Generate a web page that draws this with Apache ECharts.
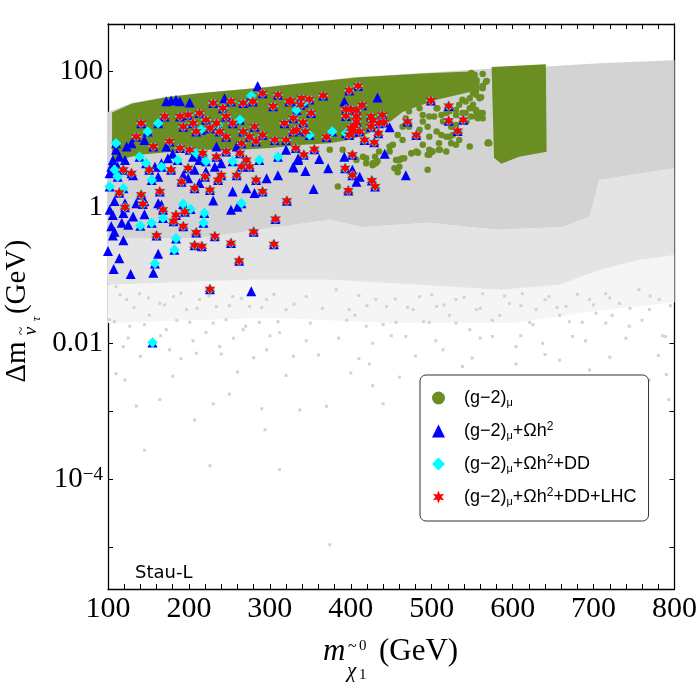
<!DOCTYPE html>
<html>
<head>
<meta charset="utf-8">
<script src="https://cdn.jsdelivr.net/npm/echarts@6/dist/echarts.min.js"></script>
<style>
  html, body { margin: 0; padding: 0; background: #fff; }
  #main { width: 700px; height: 700px; }
</style>
</head>
<body>
<div id="main"></div>
<script>
// x = m_chi1 (GeV), y = delta m (GeV)

// scanned region (gray): dense core and its speckled fringe
const grayTop = [[100,25.5],[130,34.7],[172,42.5],[213,48.6],[254,53.8],[296,59.6],[337,68.2],[407,83.6],[488,95.7],[571,110],[641,119],[707,133],[800,147]];
const graySolidBottom = [[100,0.358],[213,0.358],[374,0.66],[414,0.52],[497,0.6],[580,0.47],[661,0.52],[695,0.73],[707,2.55],[744,3.0],[800,3.8]];
const grayFringeBottom = [[100,0.073],[275,0.0865],[374,0.0865],[485,0.073],[584,0.062],[658,0.073],[707,0.121],[756,0.17],[800,0.2]];
const grayHazeBottom = [[100,0.02],[300,0.024],[450,0.02],[600,0.02],[700,0.03],[800,0.04]];
const grayDots = [
  [382,0.062],[398,0.0316],[405,0.026],[419,0.018],[427,0.0101],[431,0.0445],[444,0.035],[456,0.0205],[468,0.0127],[477,0.0316],
  [485,0.049],[497,0.0205],[506,0.035],[514,0.0081],[522,0.026],[530,0.0445],[547,0.016],[555,0.0316],[563,0.054],[575,0.0127],
  [584,0.026],[596,0.039],[604,0.009],[612,0.054],[621,0.0205],[629,0.0316],[637,0.0101],[645,0.049],[658,0.026],[666,0.035],
  [674,0.0127],[686,0.0205],[695,0.0445],[703,0.028],[715,0.054],[723,0.026],[732,0.039],[744,0.018],[756,0.062],[769,0.0316],
  [781,0.0445],[789,0.0127],[423,0.005],[538,0.0046],[604,0.005],[658,0.0057],[695,0.0041],[427,0.0024],[769,0.0029],[793,0.0015],
  [110,0.069],[123,0.0445],[139,0.054],[164,0.039],[181,0.049],[197,0.0316],[213,0.0445],[234,0.035],[254,0.049],[275,0.035],
  [296,0.0445],[320,0.0316],[102,0.0225],[127,0.018],[151,0.026],[172,0.016],[201,0.0205],[221,0.0145],[246,0.0225],[267,0.016],
  [287,0.0205],[312,0.0145],[119,0.009],[176,0.0081],[209,0.0072],[238,0.009],[296,0.0081],[329,0.0065],
  [121,0.0029],[164,0.0015],[207,0.00075],[250,0.0018],[294,0.00054],[337,0.00105],[145,0.00027],[226,0.00016],[312,0.00014],[374,0.000011],
  [115,0.052],[150,0.047],[190,0.055],[225,0.05],[265,0.046],[305,0.053],[345,0.049],[410,0.051],[455,0.045],[500,0.052],
  [540,0.048],[590,0.05],[640,0.044],[680,0.053],[720,0.047],[770,0.05],
  [132,0.034],[170,0.037],[210,0.033],[250,0.036],[290,0.034],[330,0.038],[365,0.033],[420,0.036],[470,0.034],[515,0.037],
  [560,0.033],[610,0.036],[655,0.034],[700,0.037],[745,0.033],[795,0.036],
  [108,0.021],[145,0.019],[185,0.022],[230,0.02],[270,0.018],[310,0.021],[350,0.02],[395,0.022],[440,0.019],[490,0.021],
  [530,0.02],[575,0.022],[625,0.019],[670,0.021],[715,0.02],[760,0.022],
  [125,0.012],[165,0.013],[205,0.011],[255,0.012],[300,0.013],[345,0.011],[385,0.012],[450,0.013],[505,0.011],[560,0.012],
  [610,0.013],[690,0.011],[740,0.012],[785,0.013],
  [140,0.0065],[190,0.006],[240,0.007],[280,0.0062],[360,0.0068],[410,0.006],[480,0.0066],[550,0.0061],[640,0.0069],[720,0.0063],[780,0.0067],
  [110,0.0036],[180,0.0033],[260,0.0038],[320,0.0034],[400,0.0037],[460,0.0032],[790,0.0035],
  [135,0.0012],[230,0.0013],[290,0.0011],[370,0.0012],[440,0.0013]
];

// (g-2)_mu (green): dense band, the block near 600 GeV, loose points
const greenBand = [[105,25],[130,34],[172,42],[213,48],[254,53],[296,59],[337,67],[407,82],[489,94],[547,100],
  [559,80],[559,54],[530,45],[506,38.4],[480,30],[464,25.5],[450,19],[435,15],[423,12.5],[400,10],[374,8.8],[337,8.3],
  [300,7.55],[263,7.06],[213,7.06],[176,6.59],[139,6.0],[114,5.03],[105,5.03]];
const greenBlock = [[574,117],[641,128],[642,6.6],[608,5.6],[586,4.4],[577,5.4]];
const greenDots = [
  [489,18.4],[495,15.5],[506,13.1],[512,11.7],[518,11],[526,11.7],[534,13.1],[524,8.8],[530,8.4],[547,7.9],
  [518,6.7],[510,7.06],[501,6.7],[495,6.0],[489,8.4],[481,6.7],[475,6.3],[464,5.3],[460,5.0],[456,5.0],
  [448,6.7],[452,8.4],[464,9.9],[458,11.7],[435,6.7],[431,4.5],[427,4.2],[495,3.6],[569,8.8],[547,29],
  [555,26],[559,21.8],[563,24.5],[559,40.6],[563,57],[567,71],[547,57],[543,18.4],[524,15.5],[530,16.4],
  [538,24.5],[530,23],[522,26],[534,32.4],[542,36.3],[551,32.4],[555,45.5],[547,40.6],[507,29],[512,23],
  [514,18.4],[503,21.8],[489,23],[485,29],[481,36.3],[472,26],[468,20.6],[464,15.5],
  [549,95],[553,89.5],[563,92.5],[555,71],[568,73],[549,60],[555,53.8],[561,42],[563,61.6],[551,29],
  [555,27.3],[561,24.5],[557,20.6],[549,21.8],[563,20.6],[570,9.1],
  [555,75.5],[563,60],[551,48],[538,38.4],[530,27.3],[542,24.5],[555,21.8],[518,24.5],[506,29],[497,21.8],
  [472,15.5],[485,13.9],[497,11],[509,8.8],[522,11],[534,9.9],[571,8.8],[509,7.06],[497,7.06],[460,4.0],
  [384,2.05],[419,4.5],[427,4.5],[390,7.06],[407,5.0],[374,7.06],[430,5.6],[448,7.9],
  [415,5.6],[419,5.3],[433,4.8],[458,5.0],[462,5.2],[466,5.3],[475,6.3],[483,6.4],[454,3.8],[458,3.3],[497,6.0],[501,6.7]
];

// + relic density only (blue)
const blueDots = [
  [172,36.5],[178,37.5],[184,38.4],[189,36.5],[201,35],[244,40.6],[285,61.6],
  [110,7.06],[123,7.9],[129,8.8],[114,5.6],[106,5.0],[104,4.0],[131,3.0],[145,9.9],
  [205,5.6],[213,5.0],[174,5.3],[166,4.5],[158,4.0],[162,2.85],[193,3.0],[207,3.6],[221,3.4],[232,4.0],
  [240,4.5],[213,2.3],[199,2.7],[254,1.73],[271,1.93],[281,1.64],[296,2.7],[310,3.0],[329,4.0],[335,5.0],
  [102,3.2],[112,4.0],[121,5.0],[172,7.9],[180,6.2],[234,7.9],[259,7.9],[320,7.06],
  [108,1.25],[121,1.16],[135,1.16],[145,1.25],[162,1.16],[166,1.1],[230,1.27],[252,0.93],[260,1.03],[102,0.93],
  [106,0.78],[119,0.83],[117,0.6],[131,0.74],[125,0.56],[145,0.8],[104,0.53],[108,0.44],[106,0.39],[119,0.33],
  [162,0.21],[114,0.18],[107,0.125],[128,0.105],[156,0.11],[277,0.059],[100,0.23],
  [392,36.3],[433,41.5],[448,15.2],[335,5.3],[361,5.2],[392,5.6],[442,6.2],[329,3.9],[344,3.45],[372,3.8],
  [402,3.6],[411,2.85],[407,2.4],[468,3.0],[354,1.87],[398,13.1]
];

// + direct detection, not LHC (cyan)
const cyanDots = [
  [149,13.1],[162,17.4],[215,13.9],[236,16.4],[263,19.5],[277,44],[333,27.3],[310,5.6],[287,5.0],[254,4.8],
  [221,4.8],[209,6.3],[166,4.0],[147,4.5],[139,5.6],[112,2.85],[108,3.6],[119,1.93],[154,2.55],[186,5.0],
  [110,8.8],[102,2.05],[193,1.13],[202,0.95],[219,0.83],[154,0.6],[140,0.54],[168,0.7],[218,0.6],[184,0.35],
  [182,0.24],[158,0.15],[265,1.16],[155,0.0104],[342,35],[377,13.1],[349,11.7],[394,12.4]
];

// + LHC (red)
const redDots = [
  [141,17.4],[170,21.8],[189,21.8],[205,17.4],[230,34.4],[242,29],[252,36.3],[267,34.4],[279,36.3],[291,48],
  [310,45.5],[324,36.3],[304,31],[318,17.4],[333,13.9],[320,9.9],[306,9.9],[291,11.7],[281,15.5],[267,13.1],
  [254,17.4],[246,21.8],[234,17.4],[221,19.5],[213,24.5],[199,23],[193,15.5],[209,13.1],[226,14.7],[238,13.1],
  [246,11],[265,8.8],[275,11],[283,9.4],[135,11],[156,7.9],[176,9.4],[189,7.5],[201,7.06],[217,6.3],
  [234,5.6],[246,6.7],[263,6.3],[271,5.0],[259,3.0],[240,3.0],[220,2.85],[199,3.8],[178,3.6],[151,3.6],
  [129,3.2],[119,3.6],[114,1.65],[141,1.55],[164,1.73],[191,2.4],[207,1.93],[226,1.82],[236,2.55],[275,4.0],
  [283,2.55],[291,1.73],[265,4.0],
  [121,1.01],[143,1.13],[168,0.93],[184,0.78],[195,0.87],[181,0.63],[193,0.53],[209,0.43],[232,0.38],[252,0.3],
  [207,0.28],[216,0.27],[160,0.39],[262,0.165],[226,0.063],[280,0.44],[307,0.68],[305,0.29],[321,1.26],
  [326,37],[339,40.6],[349,39],[366,44.4],[398,52.6],[409,61.6],[338,32.4],[351,24.5],[329,20.6],[341,17.8],
  [394,28],[400,28],[407,26.8],[414,32],[394,22.3],[407,21.8],[407,18.4],[405,15.9],[425,21.8],[427,19],
  [439,23],[441,17.8],[435,17.4],[425,15.5],[400,14.7],[403,13.1],[398,11.7],[411,13.1],[434,12.4],[417,9.9],
  [429,9.1],[329,13.1],[344,13.1],[370,10.9],[470,18.4],[481,11.7],[499,37.5],[521,31.3],[521,18.9],[532,13.4],
  [539,19.5],[332,7.5],[355,7.2],[342,6.0],[402,6.0],[393,3.8],[402,3.0],[426,2.5],[430,2.05],[397,1.78]
];

const xTicks = { min: 100, max: 800, step: 20 };
const yLogRange = [-5.61, 2.70];   // log10 of the y extent
const yTickLabels = { 2: '100', 0: '1', '-2': '0.01', '-4': '10{sup|−4}' };

const legendLabels = {
  g2: '{g| }(g−2){s|μ}',
  g2oh: '{g| }(g−2){s|μ}+Ωh{p|2}',
  g2ohdd: '{g| }(g−2){s|μ}+Ωh{p|2}+DD',
  g2ohddlhc: '{g| }(g−2){s|μ}+Ωh{p|2}+DD+LHC'
};

const SERIF = '"Liberation Serif", "Times New Roman", serif';
const SANS = '"Liberation Sans", Arial, sans-serif';
const starPath = 'path://M10 0L12.3 6L18.66 5L14.6 10L18.66 15L12.3 14L10 20L7.7 14L1.34 15L5.4 10L1.34 5L7.7 6Z';

const toXY = pts => pts.map(p => [p[0], Math.log10(p[1])]);

function region(pts, fill) {
  const xy = toXY(pts);
  return {
    type: 'custom',
    silent: true,
    data: [xy[0]],
    renderItem: (params, api) => ({
      type: 'polygon',
      shape: { points: xy.map(p => api.coord(p)) },
      style: { fill: fill }
    })
  };
}

function dots(name, pts, symbol, size, color) {
  return {
    type: 'scatter', name: name, data: toXY(pts),
    symbol: symbol, symbolSize: size,
    itemStyle: { color: color, opacity: 1 },
    silent: true
  };
}

const grayCore = grayTop.concat(graySolidBottom.slice().reverse());
const grayFringe = graySolidBottom.concat(grayFringeBottom.slice().reverse());
const grayHaze = grayFringeBottom.concat(grayHazeBottom.slice().reverse());

const axisCommon = {
  axisLine: { show: true, onZero: false, lineStyle: { color: '#000', width: 1.3 } },
  axisTick: { show: true, inside: true, length: 5, lineStyle: { color: '#000', width: 1 } },
  splitLine: { show: false }
};

function yLabel(v) {
  const n = Math.round(v);
  if (Math.abs(v - n) > 1e-6) return '';
  return yTickLabels[n] || '';
}

const chart = echarts.init(document.getElementById('main'), null, { renderer: 'canvas' });
chart.setOption({
  animation: false,
  backgroundColor: '#fff',
  grid: { left: 108, right: 25, top: 24, bottom: 111 },
  xAxis: [
    Object.assign({
      type: 'value', position: 'bottom', min: xTicks.min, max: xTicks.max, interval: xTicks.step,
      axisLabel: {
        show: true, margin: 5, color: '#000', fontFamily: SERIF, fontSize: 30,
        formatter: v => (v % 100 === 0 ? String(v) : '')
      }
    }, axisCommon),
    Object.assign({
      type: 'value', position: 'top', min: xTicks.min, max: xTicks.max, interval: xTicks.step,
      axisLabel: { show: false }
    }, axisCommon)
  ],
  yAxis: [
    Object.assign({
      type: 'value', position: 'left', min: yLogRange[0], max: yLogRange[1], splitNumber: 8,
      axisLabel: {
        show: true, margin: 5, color: '#000', fontFamily: SERIF, fontSize: 29,
        showMinLabel: false, showMaxLabel: false,
        formatter: yLabel,
        rich: { sup: { fontFamily: SERIF, fontSize: 19, verticalAlign: 'top', lineHeight: 14, color: '#000' } }
      }
    }, axisCommon),
    Object.assign({
      type: 'value', position: 'right', min: yLogRange[0], max: yLogRange[1], splitNumber: 8,
      axisLabel: { show: false }
    }, axisCommon)
  ],
  legend: {
    data: ['g2', 'g2oh', 'g2ohdd', 'g2ohddlhc'],
    orient: 'vertical',
    left: 420, top: 375,
    padding: [13, 12, 14, 12],
    itemGap: 13,
    itemWidth: 13, itemHeight: 13,
    backgroundColor: '#fff',
    borderColor: '#333', borderWidth: 1, borderRadius: 6,
    selectedMode: false,
    formatter: name => legendLabels[name],
    textStyle: {
      fontFamily: SANS, fontSize: 18, color: '#000', lineHeight: 20,
      rich: {
        g: { width: 14 },
        s: { fontFamily: SANS, fontSize: 11, verticalAlign: 'bottom', lineHeight: 10, color: '#000' },
        p: { fontFamily: SANS, fontSize: 12, verticalAlign: 'top', lineHeight: 11, color: '#000' }
      }
    }
  },
  series: [
    region(grayHaze, '#f5f5f5'),
    region(grayFringe, '#e4e4e4'),
    region(grayCore, '#d3d3d3'),
    dots('gray', grayDots, 'rect', 3, '#d3d3d3'),
    region(greenBand, '#6b8e23'),
    region(greenBlock, '#6b8e23'),
    dots('g2', greenDots, 'circle', 6.5, '#6b8e23'),
    dots('g2oh', blueDots.concat(cyanDots, redDots), 'triangle', 10, '#0000ff'),
    dots('g2ohdd', cyanDots.concat(redDots), 'diamond', 10.5, '#00ffff'),
    dots('g2ohddlhc', redDots, starPath, 11, '#ff0000')
  ],
  graphic: [
    // x axis title: m_{chi~_1^0} (GeV)
    { type: 'text', x: 323, y: 652, style: { text: 'm', font: 'italic 31px ' + SERIF, fill: '#000', textAlign: 'left', textVerticalAlign: 'middle' } },
    { type: 'text', x: 347, y: 671, style: { text: 'χ', font: 'italic 21px ' + SERIF, fill: '#000', textAlign: 'left', textVerticalAlign: 'middle' } },
    { type: 'text', x: 359, y: 675, style: { text: '1', font: '15px ' + SERIF, fill: '#000', textAlign: 'left', textVerticalAlign: 'middle' } },
    { type: 'text', x: 348, y: 647, style: { text: '~', font: '16px ' + SERIF, fill: '#000', textAlign: 'left', textVerticalAlign: 'middle' } },
    { type: 'text', x: 359, y: 646, style: { text: '0', font: '15px ' + SERIF, fill: '#000', textAlign: 'left', textVerticalAlign: 'middle' } },
    { type: 'text', x: 379, y: 652, style: { text: '(GeV)', font: '31px ' + SERIF, fill: '#000', textAlign: 'left', textVerticalAlign: 'middle' } },
    // y axis title: Delta m_{nu~_tau} (GeV), rotated
    { type: 'text', x: 17, y: 362, rotation: Math.PI / 2, style: { text: 'Δm', font: '29px ' + SERIF, fill: '#000', textAlign: 'center', textVerticalAlign: 'middle' } },
    { type: 'text', x: 31, y: 331, rotation: Math.PI / 2, style: { text: 'ν', font: 'italic 19px ' + SERIF, fill: '#000', textAlign: 'center', textVerticalAlign: 'middle' } },
    { type: 'text', x: 22, y: 331, rotation: Math.PI / 2, style: { text: '~', font: '15px ' + SERIF, fill: '#000', textAlign: 'center', textVerticalAlign: 'middle' } },
    { type: 'text', x: 37, y: 319, rotation: Math.PI / 2, style: { text: 'τ', font: 'italic 13px ' + SERIF, fill: '#000', textAlign: 'center', textVerticalAlign: 'middle' } },
    { type: 'text', x: 17, y: 277, rotation: Math.PI / 2, style: { text: '(GeV)', font: '29px ' + SERIF, fill: '#000', textAlign: 'center', textVerticalAlign: 'middle' } },
    // panel tag
    { type: 'text', x: 135, y: 573, style: { text: 'Stau-L', font: '18px "DejaVu Sans", sans-serif', fill: '#000', textAlign: 'left', textVerticalAlign: 'middle' } }
  ]
});
</script>
</body>
</html>
